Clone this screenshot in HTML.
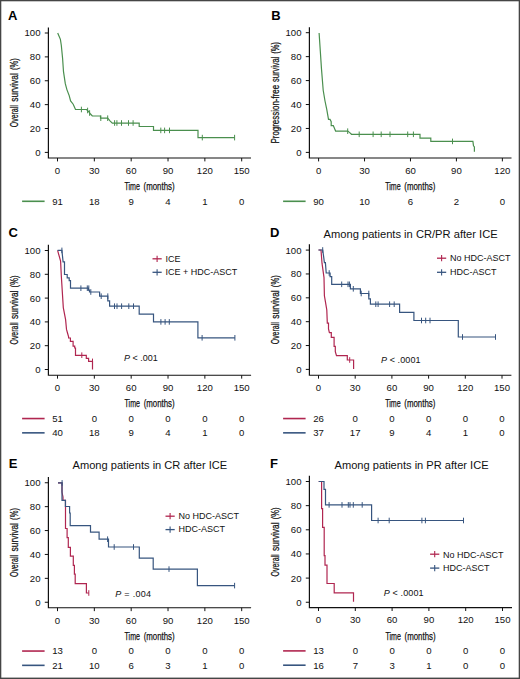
<!DOCTYPE html>
<html><head><meta charset="utf-8"><style>
html,body{margin:0;padding:0;background:#fff;}
body{width:520px;height:679px;overflow:hidden;}
svg{display:block;font-family:"Liberation Sans", sans-serif;}
.t{font-size:9px;fill:#111;}
.n{font-size:9.6px;fill:#111;}
.c{font-size:10.8px;fill:#111;stroke:#111;stroke-width:0.25px;}
</style></head><body>
<svg width="520" height="679" viewBox="0 0 520 679">
<rect x="0" y="0" width="520" height="679" fill="#fff"/>
<rect x="0" y="0" width="520" height="1.3" fill="#454545"/>
<rect x="0" y="0" width="1.3" height="679" fill="#454545"/>
<rect x="518.7" y="0" width="1.3" height="679" fill="#454545"/>
<rect x="0" y="677.6" width="520" height="1.4" fill="#454545"/>
<text x="8" y="19.7" font-size="13" font-weight="bold" fill="#000">A</text>
<path d="M48.4,27.5 V158 H251" fill="none" stroke="#111" stroke-width="1.2"/>
<line x1="44.8" y1="152.40" x2="48.4" y2="152.40" stroke="#111" stroke-width="1"/>
<text x="40.5" y="155.85" text-anchor="end" class="n">0</text>
<line x1="44.8" y1="128.52" x2="48.4" y2="128.52" stroke="#111" stroke-width="1"/>
<text x="40.5" y="131.97" text-anchor="end" class="n">20</text>
<line x1="44.8" y1="104.64" x2="48.4" y2="104.64" stroke="#111" stroke-width="1"/>
<text x="40.5" y="108.09" text-anchor="end" class="n">40</text>
<line x1="44.8" y1="80.76" x2="48.4" y2="80.76" stroke="#111" stroke-width="1"/>
<text x="40.5" y="84.21" text-anchor="end" class="n">60</text>
<line x1="44.8" y1="56.88" x2="48.4" y2="56.88" stroke="#111" stroke-width="1"/>
<text x="40.5" y="60.33" text-anchor="end" class="n">80</text>
<line x1="44.8" y1="33.00" x2="48.4" y2="33.00" stroke="#111" stroke-width="1"/>
<text x="40.5" y="36.45" text-anchor="end" class="n">100</text>
<line x1="57.50" y1="158" x2="57.50" y2="161.4" stroke="#111" stroke-width="1"/>
<text x="57.50" y="173.80" text-anchor="middle" class="n">0</text>
<line x1="94.34" y1="158" x2="94.34" y2="161.4" stroke="#111" stroke-width="1"/>
<text x="94.34" y="173.80" text-anchor="middle" class="n">30</text>
<line x1="131.18" y1="158" x2="131.18" y2="161.4" stroke="#111" stroke-width="1"/>
<text x="131.18" y="173.80" text-anchor="middle" class="n">60</text>
<line x1="168.02" y1="158" x2="168.02" y2="161.4" stroke="#111" stroke-width="1"/>
<text x="168.02" y="173.80" text-anchor="middle" class="n">90</text>
<line x1="204.86" y1="158" x2="204.86" y2="161.4" stroke="#111" stroke-width="1"/>
<text x="204.86" y="173.80" text-anchor="middle" class="n">120</text>
<line x1="241.70" y1="158" x2="241.70" y2="161.4" stroke="#111" stroke-width="1"/>
<text x="241.70" y="173.80" text-anchor="middle" class="n">150</text>
<text x="124.50" y="189.60" class="c" textLength="15.4" lengthAdjust="spacingAndGlyphs">Time</text>
<text x="143.60" y="189.60" class="c" textLength="31" lengthAdjust="spacingAndGlyphs">(months)</text>
<text transform="translate(17.60,127.20) rotate(-90)" x="0" y="0" class="c" textLength="22.0" lengthAdjust="spacingAndGlyphs">Overall</text>
<text transform="translate(17.60,101.70) rotate(-90)" x="0" y="0" class="c" textLength="28.5" lengthAdjust="spacingAndGlyphs">survival</text>
<text transform="translate(17.60,70.10) rotate(-90)" x="0" y="0" class="c" textLength="11.9" lengthAdjust="spacingAndGlyphs">(%)</text>
<line x1="22.099999999999998" y1="201.30" x2="44.6" y2="201.30" stroke="#4a8f4e" stroke-width="1.6"/>
<text x="57.50" y="204.60" text-anchor="middle" class="n">91</text>
<text x="94.34" y="204.60" text-anchor="middle" class="n">18</text>
<text x="131.18" y="204.60" text-anchor="middle" class="n">9</text>
<text x="168.02" y="204.60" text-anchor="middle" class="n">4</text>
<text x="204.86" y="204.60" text-anchor="middle" class="n">1</text>
<text x="241.70" y="204.60" text-anchor="middle" class="n">0</text>
<path d="M57.7,33 L60.4,39.3 L61.3,45.2 L62.6,58.5 L63.5,71.7 L65.3,83.7 L66.9,89.6 L69.2,95.6 L70.6,100.9 L73.2,104.2 L75.5,109.5 H86.5 L88.5,111.5 L90.5,114 L92.3,116 H100.5 V118.2 H107.7 L110,120.8 L112.3,123.1 H139.2 V126.5 H153.5 V130.4 H198 V137.6 H234.6" fill="none" stroke="#4a8f4e" stroke-width="1.2" stroke-linejoin="miter"/>
<line x1="81.4" y1="106.70" x2="81.4" y2="112.30" stroke="#4a8f4e" stroke-width="1"/>
<line x1="87.6" y1="107.70" x2="87.6" y2="113.30" stroke="#4a8f4e" stroke-width="1"/>
<line x1="89.6" y1="110.20" x2="89.6" y2="115.80" stroke="#4a8f4e" stroke-width="1"/>
<line x1="100.8" y1="115.40" x2="100.8" y2="121.00" stroke="#4a8f4e" stroke-width="1"/>
<line x1="107.7" y1="115.40" x2="107.7" y2="121.00" stroke="#4a8f4e" stroke-width="1"/>
<line x1="114.6" y1="120.20" x2="114.6" y2="125.80" stroke="#4a8f4e" stroke-width="1"/>
<line x1="116.9" y1="120.20" x2="116.9" y2="125.80" stroke="#4a8f4e" stroke-width="1"/>
<line x1="121.5" y1="120.20" x2="121.5" y2="125.80" stroke="#4a8f4e" stroke-width="1"/>
<line x1="128.5" y1="120.20" x2="128.5" y2="125.80" stroke="#4a8f4e" stroke-width="1"/>
<line x1="133.1" y1="120.20" x2="133.1" y2="125.80" stroke="#4a8f4e" stroke-width="1"/>
<line x1="160.8" y1="127.60" x2="160.8" y2="133.20" stroke="#4a8f4e" stroke-width="1"/>
<line x1="164.6" y1="127.60" x2="164.6" y2="133.20" stroke="#4a8f4e" stroke-width="1"/>
<line x1="169.5" y1="127.60" x2="169.5" y2="133.20" stroke="#4a8f4e" stroke-width="1"/>
<line x1="202.3" y1="134.80" x2="202.3" y2="140.40" stroke="#4a8f4e" stroke-width="1"/>
<line x1="234.6" y1="134.80" x2="234.6" y2="140.40" stroke="#4a8f4e" stroke-width="1"/>
<text x="271.2" y="19.7" font-size="13" font-weight="bold" fill="#000">B</text>
<path d="M309.4,27.3 V158 H511.5" fill="none" stroke="#111" stroke-width="1.2"/>
<line x1="305.79999999999995" y1="152.40" x2="309.4" y2="152.40" stroke="#111" stroke-width="1"/>
<text x="301.5" y="155.85" text-anchor="end" class="n">0</text>
<line x1="305.79999999999995" y1="128.46" x2="309.4" y2="128.46" stroke="#111" stroke-width="1"/>
<text x="301.5" y="131.91" text-anchor="end" class="n">20</text>
<line x1="305.79999999999995" y1="104.52" x2="309.4" y2="104.52" stroke="#111" stroke-width="1"/>
<text x="301.5" y="107.97" text-anchor="end" class="n">40</text>
<line x1="305.79999999999995" y1="80.58" x2="309.4" y2="80.58" stroke="#111" stroke-width="1"/>
<text x="301.5" y="84.03" text-anchor="end" class="n">60</text>
<line x1="305.79999999999995" y1="56.64" x2="309.4" y2="56.64" stroke="#111" stroke-width="1"/>
<text x="301.5" y="60.09" text-anchor="end" class="n">80</text>
<line x1="305.79999999999995" y1="32.70" x2="309.4" y2="32.70" stroke="#111" stroke-width="1"/>
<text x="301.5" y="36.15" text-anchor="end" class="n">100</text>
<line x1="318.60" y1="158" x2="318.60" y2="161.4" stroke="#111" stroke-width="1"/>
<text x="318.60" y="173.80" text-anchor="middle" class="n">0</text>
<line x1="364.54" y1="158" x2="364.54" y2="161.4" stroke="#111" stroke-width="1"/>
<text x="364.54" y="173.80" text-anchor="middle" class="n">30</text>
<line x1="410.48" y1="158" x2="410.48" y2="161.4" stroke="#111" stroke-width="1"/>
<text x="410.48" y="173.80" text-anchor="middle" class="n">60</text>
<line x1="456.42" y1="158" x2="456.42" y2="161.4" stroke="#111" stroke-width="1"/>
<text x="456.42" y="173.80" text-anchor="middle" class="n">90</text>
<line x1="502.36" y1="158" x2="502.36" y2="161.4" stroke="#111" stroke-width="1"/>
<text x="502.36" y="173.80" text-anchor="middle" class="n">120</text>
<text x="385.25" y="189.60" class="c" textLength="15.4" lengthAdjust="spacingAndGlyphs">Time</text>
<text x="404.35" y="189.60" class="c" textLength="31" lengthAdjust="spacingAndGlyphs">(months)</text>
<text transform="translate(278.60,143.55) rotate(-90)" x="0" y="0" class="c" textLength="58.7" lengthAdjust="spacingAndGlyphs">Progression-free</text>
<text transform="translate(278.60,82.05) rotate(-90)" x="0" y="0" class="c" textLength="25.5" lengthAdjust="spacingAndGlyphs">survival</text>
<text transform="translate(278.60,53.65) rotate(-90)" x="0" y="0" class="c" textLength="11.7" lengthAdjust="spacingAndGlyphs">(%)</text>
<line x1="283.09999999999997" y1="201.30" x2="305.59999999999997" y2="201.30" stroke="#4a8f4e" stroke-width="1.6"/>
<text x="318.60" y="204.60" text-anchor="middle" class="n">90</text>
<text x="364.54" y="204.60" text-anchor="middle" class="n">10</text>
<text x="410.48" y="204.60" text-anchor="middle" class="n">6</text>
<text x="456.42" y="204.60" text-anchor="middle" class="n">2</text>
<text x="502.36" y="204.60" text-anchor="middle" class="n">0</text>
<path d="M319.1,33 L320.3,51 L321.5,69.1 L323.2,90.3 L325,101 L326.8,109.7 L328.5,119.4 H330 L331.2,121.7 V125.6 H333.3 L335.6,131.1 H347.8 L349.7,132.6 L351.5,134.3 H420 V138.1 H430.8 V141.4 H472.9 L473.5,145.8 L474.4,146.9 V151.8" fill="none" stroke="#4a8f4e" stroke-width="1.2" stroke-linejoin="miter"/>
<line x1="347.7" y1="128.40" x2="347.7" y2="134.00" stroke="#4a8f4e" stroke-width="1"/>
<line x1="359.2" y1="131.50" x2="359.2" y2="137.10" stroke="#4a8f4e" stroke-width="1"/>
<line x1="373.1" y1="131.50" x2="373.1" y2="137.10" stroke="#4a8f4e" stroke-width="1"/>
<line x1="381.2" y1="131.50" x2="381.2" y2="137.10" stroke="#4a8f4e" stroke-width="1"/>
<line x1="390" y1="131.50" x2="390" y2="137.10" stroke="#4a8f4e" stroke-width="1"/>
<line x1="407.7" y1="131.50" x2="407.7" y2="137.10" stroke="#4a8f4e" stroke-width="1"/>
<line x1="413.4" y1="131.50" x2="413.4" y2="137.10" stroke="#4a8f4e" stroke-width="1"/>
<line x1="452.5" y1="138.60" x2="452.5" y2="144.20" stroke="#4a8f4e" stroke-width="1"/>
<text x="8.4" y="236.6" font-size="13" font-weight="bold" fill="#000">C</text>
<path d="M48.4,244.75 V375.25 H251.1" fill="none" stroke="#111" stroke-width="1.2"/>
<line x1="44.8" y1="369.50" x2="48.4" y2="369.50" stroke="#111" stroke-width="1"/>
<text x="40.5" y="372.95" text-anchor="end" class="n">0</text>
<line x1="44.8" y1="345.70" x2="48.4" y2="345.70" stroke="#111" stroke-width="1"/>
<text x="40.5" y="349.15" text-anchor="end" class="n">20</text>
<line x1="44.8" y1="321.90" x2="48.4" y2="321.90" stroke="#111" stroke-width="1"/>
<text x="40.5" y="325.35" text-anchor="end" class="n">40</text>
<line x1="44.8" y1="298.10" x2="48.4" y2="298.10" stroke="#111" stroke-width="1"/>
<text x="40.5" y="301.55" text-anchor="end" class="n">60</text>
<line x1="44.8" y1="274.30" x2="48.4" y2="274.30" stroke="#111" stroke-width="1"/>
<text x="40.5" y="277.75" text-anchor="end" class="n">80</text>
<line x1="44.8" y1="250.50" x2="48.4" y2="250.50" stroke="#111" stroke-width="1"/>
<text x="40.5" y="253.95" text-anchor="end" class="n">100</text>
<line x1="57.50" y1="375.25" x2="57.50" y2="378.65" stroke="#111" stroke-width="1"/>
<text x="57.50" y="391.05" text-anchor="middle" class="n">0</text>
<line x1="94.34" y1="375.25" x2="94.34" y2="378.65" stroke="#111" stroke-width="1"/>
<text x="94.34" y="391.05" text-anchor="middle" class="n">30</text>
<line x1="131.18" y1="375.25" x2="131.18" y2="378.65" stroke="#111" stroke-width="1"/>
<text x="131.18" y="391.05" text-anchor="middle" class="n">60</text>
<line x1="168.02" y1="375.25" x2="168.02" y2="378.65" stroke="#111" stroke-width="1"/>
<text x="168.02" y="391.05" text-anchor="middle" class="n">90</text>
<line x1="204.86" y1="375.25" x2="204.86" y2="378.65" stroke="#111" stroke-width="1"/>
<text x="204.86" y="391.05" text-anchor="middle" class="n">120</text>
<line x1="241.70" y1="375.25" x2="241.70" y2="378.65" stroke="#111" stroke-width="1"/>
<text x="241.70" y="391.05" text-anchor="middle" class="n">150</text>
<text x="124.55" y="406.85" class="c" textLength="15.4" lengthAdjust="spacingAndGlyphs">Time</text>
<text x="143.65" y="406.85" class="c" textLength="31" lengthAdjust="spacingAndGlyphs">(months)</text>
<text transform="translate(17.60,344.50) rotate(-90)" x="0" y="0" class="c" textLength="22.0" lengthAdjust="spacingAndGlyphs">Overall</text>
<text transform="translate(17.60,319.00) rotate(-90)" x="0" y="0" class="c" textLength="28.5" lengthAdjust="spacingAndGlyphs">survival</text>
<text transform="translate(17.60,287.40) rotate(-90)" x="0" y="0" class="c" textLength="11.9" lengthAdjust="spacingAndGlyphs">(%)</text>
<line x1="22.099999999999998" y1="418.55" x2="44.6" y2="418.55" stroke="#b02650" stroke-width="1.6"/>
<text x="57.50" y="421.85" text-anchor="middle" class="n">51</text>
<text x="94.34" y="421.85" text-anchor="middle" class="n">0</text>
<text x="131.18" y="421.85" text-anchor="middle" class="n">0</text>
<text x="168.02" y="421.85" text-anchor="middle" class="n">0</text>
<text x="204.86" y="421.85" text-anchor="middle" class="n">0</text>
<text x="241.70" y="421.85" text-anchor="middle" class="n">0</text>
<line x1="22.099999999999998" y1="432.85" x2="44.6" y2="432.85" stroke="#37557f" stroke-width="1.6"/>
<text x="57.50" y="436.15" text-anchor="middle" class="n">40</text>
<text x="94.34" y="436.15" text-anchor="middle" class="n">18</text>
<text x="131.18" y="436.15" text-anchor="middle" class="n">9</text>
<text x="168.02" y="436.15" text-anchor="middle" class="n">4</text>
<text x="204.86" y="436.15" text-anchor="middle" class="n">1</text>
<text x="241.70" y="436.15" text-anchor="middle" class="n">0</text>
<path d="M57.6,250.4 L60.6,261.2 L61.3,275.8 L63.3,307.6 L65.6,319.6 L66.5,329.4 L67.5,333 L68.6,336.9 V338 H70.4 V341.4 H73.1 V346.1 H74.7 V348 H75.5 V355.3 H86.3 V358.4 H88.6 V361.4 H92.5 V369.6" fill="none" stroke="#b02650" stroke-width="1.2" stroke-linejoin="miter"/>
<line x1="81.8" y1="352.40" x2="81.8" y2="358.00" stroke="#b02650" stroke-width="1"/>
<line x1="92.5" y1="358.60" x2="92.5" y2="364.20" stroke="#b02650" stroke-width="1"/>
<path d="M57.6,250.4 H61.9 L63.1,261.9 H64.5 V274.5 H67.2 V277.8 H69.2 V280.6 H70.5 V288.2 H88.4 V290 H89.5 V292 H99.6 V296.2 H107.8 V300.8 H109.6 V306.2 H139.2 V314.1 H153.5 V321.9 H197.9 V337.8 H234.9" fill="none" stroke="#37557f" stroke-width="1.2" stroke-linejoin="miter"/>
<line x1="61.9" y1="247.60" x2="61.9" y2="253.20" stroke="#37557f" stroke-width="1"/>
<line x1="80.9" y1="285.40" x2="80.9" y2="291.00" stroke="#37557f" stroke-width="1"/>
<line x1="87.3" y1="285.40" x2="87.3" y2="291.00" stroke="#37557f" stroke-width="1"/>
<line x1="88.8" y1="285.40" x2="88.8" y2="291.00" stroke="#37557f" stroke-width="1"/>
<line x1="90.8" y1="289.20" x2="90.8" y2="294.80" stroke="#37557f" stroke-width="1"/>
<line x1="101.2" y1="293.40" x2="101.2" y2="299.00" stroke="#37557f" stroke-width="1"/>
<line x1="107.8" y1="293.40" x2="107.8" y2="299.00" stroke="#37557f" stroke-width="1"/>
<line x1="114.5" y1="303.40" x2="114.5" y2="309.00" stroke="#37557f" stroke-width="1"/>
<line x1="117" y1="303.40" x2="117" y2="309.00" stroke="#37557f" stroke-width="1"/>
<line x1="121.6" y1="303.40" x2="121.6" y2="309.00" stroke="#37557f" stroke-width="1"/>
<line x1="128.8" y1="303.40" x2="128.8" y2="309.00" stroke="#37557f" stroke-width="1"/>
<line x1="133.5" y1="303.40" x2="133.5" y2="309.00" stroke="#37557f" stroke-width="1"/>
<line x1="160.9" y1="319.10" x2="160.9" y2="324.70" stroke="#37557f" stroke-width="1"/>
<line x1="165.1" y1="319.10" x2="165.1" y2="324.70" stroke="#37557f" stroke-width="1"/>
<line x1="169.3" y1="319.10" x2="169.3" y2="324.70" stroke="#37557f" stroke-width="1"/>
<line x1="202.1" y1="335.00" x2="202.1" y2="340.60" stroke="#37557f" stroke-width="1"/>
<line x1="234.9" y1="335.00" x2="234.9" y2="340.60" stroke="#37557f" stroke-width="1"/>
<line x1="152.50" y1="258.8" x2="161.70" y2="258.8" stroke="#b02650" stroke-width="1.3"/>
<line x1="157.1" y1="255.70" x2="157.1" y2="261.90" stroke="#b02650" stroke-width="1.1"/>
<text x="165.5" y="261.7" class="t">ICE</text>
<line x1="152.50" y1="272.3" x2="161.70" y2="272.3" stroke="#37557f" stroke-width="1.3"/>
<line x1="157.1" y1="269.20" x2="157.1" y2="275.40" stroke="#37557f" stroke-width="1.1"/>
<text x="165.5" y="274.8" class="t">ICE + HDC-ASCT</text>
<text x="124.1" y="361.2" class="t" textLength="33.6" lengthAdjust="spacing"><tspan font-style="italic">P</tspan> &lt; .001</text>
<text x="270" y="236.7" font-size="13" font-weight="bold" fill="#000">D</text>
<path d="M309.4,244.25 V375.25 H511.4" fill="none" stroke="#111" stroke-width="1.2"/>
<line x1="305.79999999999995" y1="369.40" x2="309.4" y2="369.40" stroke="#111" stroke-width="1"/>
<text x="301.5" y="372.85" text-anchor="end" class="n">0</text>
<line x1="305.79999999999995" y1="345.54" x2="309.4" y2="345.54" stroke="#111" stroke-width="1"/>
<text x="301.5" y="348.99" text-anchor="end" class="n">20</text>
<line x1="305.79999999999995" y1="321.68" x2="309.4" y2="321.68" stroke="#111" stroke-width="1"/>
<text x="301.5" y="325.13" text-anchor="end" class="n">40</text>
<line x1="305.79999999999995" y1="297.82" x2="309.4" y2="297.82" stroke="#111" stroke-width="1"/>
<text x="301.5" y="301.27" text-anchor="end" class="n">60</text>
<line x1="305.79999999999995" y1="273.96" x2="309.4" y2="273.96" stroke="#111" stroke-width="1"/>
<text x="301.5" y="277.41" text-anchor="end" class="n">80</text>
<line x1="305.79999999999995" y1="250.10" x2="309.4" y2="250.10" stroke="#111" stroke-width="1"/>
<text x="301.5" y="253.55" text-anchor="end" class="n">100</text>
<line x1="318.50" y1="375.25" x2="318.50" y2="378.65" stroke="#111" stroke-width="1"/>
<text x="318.50" y="391.05" text-anchor="middle" class="n">0</text>
<line x1="355.20" y1="375.25" x2="355.20" y2="378.65" stroke="#111" stroke-width="1"/>
<text x="355.20" y="391.05" text-anchor="middle" class="n">30</text>
<line x1="391.90" y1="375.25" x2="391.90" y2="378.65" stroke="#111" stroke-width="1"/>
<text x="391.90" y="391.05" text-anchor="middle" class="n">60</text>
<line x1="428.60" y1="375.25" x2="428.60" y2="378.65" stroke="#111" stroke-width="1"/>
<text x="428.60" y="391.05" text-anchor="middle" class="n">90</text>
<line x1="465.30" y1="375.25" x2="465.30" y2="378.65" stroke="#111" stroke-width="1"/>
<text x="465.30" y="391.05" text-anchor="middle" class="n">120</text>
<line x1="502.00" y1="375.25" x2="502.00" y2="378.65" stroke="#111" stroke-width="1"/>
<text x="502.00" y="391.05" text-anchor="middle" class="n">150</text>
<text x="385.20" y="406.85" class="c" textLength="15.4" lengthAdjust="spacingAndGlyphs">Time</text>
<text x="404.30" y="406.85" class="c" textLength="31" lengthAdjust="spacingAndGlyphs">(months)</text>
<text transform="translate(278.60,344.25) rotate(-90)" x="0" y="0" class="c" textLength="22.0" lengthAdjust="spacingAndGlyphs">Overall</text>
<text transform="translate(278.60,318.75) rotate(-90)" x="0" y="0" class="c" textLength="28.5" lengthAdjust="spacingAndGlyphs">survival</text>
<text transform="translate(278.60,287.15) rotate(-90)" x="0" y="0" class="c" textLength="11.9" lengthAdjust="spacingAndGlyphs">(%)</text>
<line x1="283.09999999999997" y1="418.55" x2="305.59999999999997" y2="418.55" stroke="#b02650" stroke-width="1.6"/>
<text x="318.50" y="421.85" text-anchor="middle" class="n">26</text>
<text x="355.20" y="421.85" text-anchor="middle" class="n">0</text>
<text x="391.90" y="421.85" text-anchor="middle" class="n">0</text>
<text x="428.60" y="421.85" text-anchor="middle" class="n">0</text>
<text x="465.30" y="421.85" text-anchor="middle" class="n">0</text>
<text x="502.00" y="421.85" text-anchor="middle" class="n">0</text>
<line x1="283.09999999999997" y1="432.85" x2="305.59999999999997" y2="432.85" stroke="#37557f" stroke-width="1.6"/>
<text x="318.50" y="436.15" text-anchor="middle" class="n">37</text>
<text x="355.20" y="436.15" text-anchor="middle" class="n">17</text>
<text x="391.90" y="436.15" text-anchor="middle" class="n">9</text>
<text x="428.60" y="436.15" text-anchor="middle" class="n">4</text>
<text x="465.30" y="436.15" text-anchor="middle" class="n">1</text>
<text x="502.00" y="436.15" text-anchor="middle" class="n">0</text>
<path d="M318.5,250 H321 L322,263.2 L324,277.6 L324.4,295.8 L325.4,301.6 L326.8,310 L327.3,323.1 H328.5 V329 L329.4,332.7 H331.3 V337.3 H334.1 V346.3 H335.3 V351.6 L336.5,355.6 H347.3 V360 H353.6 V369.1" fill="none" stroke="#b02650" stroke-width="1.2" stroke-linejoin="miter"/>
<line x1="349.7" y1="357.20" x2="349.7" y2="362.80" stroke="#b02650" stroke-width="1"/>
<path d="M318.5,250 H322.7 L323.6,256.4 L324.4,262.7 H325.4 L326.2,273 H330.1 V276.6 H331.7 V284.3 H350.4 V288.8 H360.4 V293.5 H368.8 V298.8 H370.4 V304.2 H399.6 V312.3 H413.9 V320.5 H458.3 V337 H495.5" fill="none" stroke="#37557f" stroke-width="1.2" stroke-linejoin="miter"/>
<line x1="322.7" y1="247.20" x2="322.7" y2="252.80" stroke="#37557f" stroke-width="1"/>
<line x1="329.2" y1="270.20" x2="329.2" y2="275.80" stroke="#37557f" stroke-width="1"/>
<line x1="341.7" y1="281.50" x2="341.7" y2="287.10" stroke="#37557f" stroke-width="1"/>
<line x1="348" y1="281.50" x2="348" y2="287.10" stroke="#37557f" stroke-width="1"/>
<line x1="349.4" y1="281.50" x2="349.4" y2="287.10" stroke="#37557f" stroke-width="1"/>
<line x1="353.3" y1="286.00" x2="353.3" y2="291.60" stroke="#37557f" stroke-width="1"/>
<line x1="361.2" y1="290.70" x2="361.2" y2="296.30" stroke="#37557f" stroke-width="1"/>
<line x1="368.8" y1="290.70" x2="368.8" y2="296.30" stroke="#37557f" stroke-width="1"/>
<line x1="375.8" y1="301.40" x2="375.8" y2="307.00" stroke="#37557f" stroke-width="1"/>
<line x1="378.1" y1="301.40" x2="378.1" y2="307.00" stroke="#37557f" stroke-width="1"/>
<line x1="389.6" y1="301.40" x2="389.6" y2="307.00" stroke="#37557f" stroke-width="1"/>
<line x1="394.2" y1="301.40" x2="394.2" y2="307.00" stroke="#37557f" stroke-width="1"/>
<line x1="421.5" y1="317.70" x2="421.5" y2="323.30" stroke="#37557f" stroke-width="1"/>
<line x1="425.7" y1="317.70" x2="425.7" y2="323.30" stroke="#37557f" stroke-width="1"/>
<line x1="430" y1="317.70" x2="430" y2="323.30" stroke="#37557f" stroke-width="1"/>
<line x1="462.5" y1="334.20" x2="462.5" y2="339.80" stroke="#37557f" stroke-width="1"/>
<line x1="495.5" y1="334.20" x2="495.5" y2="339.80" stroke="#37557f" stroke-width="1"/>
<line x1="437.00" y1="258.2" x2="446.20" y2="258.2" stroke="#b02650" stroke-width="1.3"/>
<line x1="441.6" y1="255.10" x2="441.6" y2="261.30" stroke="#b02650" stroke-width="1.1"/>
<text x="450.1" y="261.3" class="t">No HDC-ASCT</text>
<line x1="437.00" y1="272.3" x2="446.20" y2="272.3" stroke="#37557f" stroke-width="1.3"/>
<line x1="441.6" y1="269.20" x2="441.6" y2="275.40" stroke="#37557f" stroke-width="1.1"/>
<text x="450.1" y="275.1" class="t">HDC-ASCT</text>
<text x="381" y="362.5" class="t" textLength="39.5" lengthAdjust="spacing"><tspan font-style="italic">P</tspan> &lt; .0001</text>
<text x="323.5" y="237.8" font-size="11" fill="#111" textLength="174.2" lengthAdjust="spacingAndGlyphs">Among patients in CR/PR after ICE</text>
<text x="8.8" y="468.4" font-size="13" font-weight="bold" fill="#000">E</text>
<path d="M48.4,477 V607.75 H251.1" fill="none" stroke="#111" stroke-width="1.2"/>
<line x1="44.8" y1="602.25" x2="48.4" y2="602.25" stroke="#111" stroke-width="1"/>
<text x="40.5" y="605.70" text-anchor="end" class="n">0</text>
<line x1="44.8" y1="578.35" x2="48.4" y2="578.35" stroke="#111" stroke-width="1"/>
<text x="40.5" y="581.80" text-anchor="end" class="n">20</text>
<line x1="44.8" y1="554.45" x2="48.4" y2="554.45" stroke="#111" stroke-width="1"/>
<text x="40.5" y="557.90" text-anchor="end" class="n">40</text>
<line x1="44.8" y1="530.55" x2="48.4" y2="530.55" stroke="#111" stroke-width="1"/>
<text x="40.5" y="534.00" text-anchor="end" class="n">60</text>
<line x1="44.8" y1="506.65" x2="48.4" y2="506.65" stroke="#111" stroke-width="1"/>
<text x="40.5" y="510.10" text-anchor="end" class="n">80</text>
<line x1="44.8" y1="482.75" x2="48.4" y2="482.75" stroke="#111" stroke-width="1"/>
<text x="40.5" y="486.20" text-anchor="end" class="n">100</text>
<line x1="57.50" y1="607.75" x2="57.50" y2="611.15" stroke="#111" stroke-width="1"/>
<text x="57.50" y="623.55" text-anchor="middle" class="n">0</text>
<line x1="94.34" y1="607.75" x2="94.34" y2="611.15" stroke="#111" stroke-width="1"/>
<text x="94.34" y="623.55" text-anchor="middle" class="n">30</text>
<line x1="131.18" y1="607.75" x2="131.18" y2="611.15" stroke="#111" stroke-width="1"/>
<text x="131.18" y="623.55" text-anchor="middle" class="n">60</text>
<line x1="168.02" y1="607.75" x2="168.02" y2="611.15" stroke="#111" stroke-width="1"/>
<text x="168.02" y="623.55" text-anchor="middle" class="n">90</text>
<line x1="204.86" y1="607.75" x2="204.86" y2="611.15" stroke="#111" stroke-width="1"/>
<text x="204.86" y="623.55" text-anchor="middle" class="n">120</text>
<line x1="241.70" y1="607.75" x2="241.70" y2="611.15" stroke="#111" stroke-width="1"/>
<text x="241.70" y="623.55" text-anchor="middle" class="n">150</text>
<text x="124.55" y="639.85" class="c" textLength="15.4" lengthAdjust="spacingAndGlyphs">Time</text>
<text x="143.65" y="639.85" class="c" textLength="31" lengthAdjust="spacingAndGlyphs">(months)</text>
<text transform="translate(17.60,577.00) rotate(-90)" x="0" y="0" class="c" textLength="22.0" lengthAdjust="spacingAndGlyphs">Overall</text>
<text transform="translate(17.60,551.50) rotate(-90)" x="0" y="0" class="c" textLength="28.5" lengthAdjust="spacingAndGlyphs">survival</text>
<text transform="translate(17.60,519.90) rotate(-90)" x="0" y="0" class="c" textLength="11.9" lengthAdjust="spacingAndGlyphs">(%)</text>
<line x1="22.099999999999998" y1="651.05" x2="44.6" y2="651.05" stroke="#b02650" stroke-width="1.6"/>
<text x="57.50" y="654.35" text-anchor="middle" class="n">13</text>
<text x="94.34" y="654.35" text-anchor="middle" class="n">0</text>
<text x="131.18" y="654.35" text-anchor="middle" class="n">0</text>
<text x="168.02" y="654.35" text-anchor="middle" class="n">0</text>
<text x="204.86" y="654.35" text-anchor="middle" class="n">0</text>
<text x="241.70" y="654.35" text-anchor="middle" class="n">0</text>
<line x1="22.099999999999998" y1="665.35" x2="44.6" y2="665.35" stroke="#37557f" stroke-width="1.6"/>
<text x="57.50" y="668.65" text-anchor="middle" class="n">21</text>
<text x="94.34" y="668.65" text-anchor="middle" class="n">10</text>
<text x="131.18" y="668.65" text-anchor="middle" class="n">6</text>
<text x="168.02" y="668.65" text-anchor="middle" class="n">3</text>
<text x="204.86" y="668.65" text-anchor="middle" class="n">1</text>
<text x="241.70" y="668.65" text-anchor="middle" class="n">0</text>
<path d="M58,482.9 H62 V492 L63,497 V500.4 H65.5 V528.5 H67.1 V537.6 H68.3 V547.3 H70.4 V556.2 H73.3 V565.4 H74.4 V574.2 H75.2 V583.6 H86.4 V593 H88.8" fill="none" stroke="#b02650" stroke-width="1.2" stroke-linejoin="miter"/>
<line x1="88.8" y1="590.20" x2="88.8" y2="595.80" stroke="#b02650" stroke-width="1"/>
<path d="M58,482.9 H62 V500.4 H65.4 V506.5 H69.6 V513 H70.2 V525.7 H90.5 V532.1 H99.1 V539.2 H108.5 V547 H139.3 V558.1 H153.2 V569.1 H197.4 V585.6 H234.6" fill="none" stroke="#37557f" stroke-width="1.2" stroke-linejoin="miter"/>
<line x1="62.1" y1="480.10" x2="62.1" y2="485.70" stroke="#37557f" stroke-width="1"/>
<line x1="107.6" y1="536.40" x2="107.6" y2="542.00" stroke="#37557f" stroke-width="1"/>
<line x1="114.2" y1="544.20" x2="114.2" y2="549.80" stroke="#37557f" stroke-width="1"/>
<line x1="133.5" y1="544.20" x2="133.5" y2="549.80" stroke="#37557f" stroke-width="1"/>
<line x1="169" y1="566.30" x2="169" y2="571.90" stroke="#37557f" stroke-width="1"/>
<line x1="234.6" y1="582.80" x2="234.6" y2="588.40" stroke="#37557f" stroke-width="1"/>
<line x1="165.50" y1="516.2" x2="174.70" y2="516.2" stroke="#b02650" stroke-width="1.3"/>
<line x1="170.1" y1="513.10" x2="170.1" y2="519.30" stroke="#b02650" stroke-width="1.1"/>
<text x="178.5" y="519.4" class="t">No HDC-ASCT</text>
<line x1="165.50" y1="529.6" x2="174.70" y2="529.6" stroke="#37557f" stroke-width="1.3"/>
<line x1="170.1" y1="526.50" x2="170.1" y2="532.70" stroke="#37557f" stroke-width="1.1"/>
<text x="178.5" y="532.4" class="t">HDC-ASCT</text>
<text x="115.2" y="597.1" class="t" textLength="35.9" lengthAdjust="spacing"><tspan font-style="italic">P</tspan> = .004</text>
<text x="72.5" y="469.1" font-size="11" fill="#111" textLength="154.7" lengthAdjust="spacingAndGlyphs">Among patients in CR after ICE</text>
<text x="270" y="468.3" font-size="13" font-weight="bold" fill="#000">F</text>
<path d="M309.4,475.75 V607.6 H512" fill="none" stroke="#111" stroke-width="1.2"/>
<line x1="305.79999999999995" y1="602.25" x2="309.4" y2="602.25" stroke="#111" stroke-width="1"/>
<text x="301.5" y="605.70" text-anchor="end" class="n">0</text>
<line x1="305.79999999999995" y1="578.10" x2="309.4" y2="578.10" stroke="#111" stroke-width="1"/>
<text x="301.5" y="581.55" text-anchor="end" class="n">20</text>
<line x1="305.79999999999995" y1="553.95" x2="309.4" y2="553.95" stroke="#111" stroke-width="1"/>
<text x="301.5" y="557.40" text-anchor="end" class="n">40</text>
<line x1="305.79999999999995" y1="529.80" x2="309.4" y2="529.80" stroke="#111" stroke-width="1"/>
<text x="301.5" y="533.25" text-anchor="end" class="n">60</text>
<line x1="305.79999999999995" y1="505.65" x2="309.4" y2="505.65" stroke="#111" stroke-width="1"/>
<text x="301.5" y="509.10" text-anchor="end" class="n">80</text>
<line x1="305.79999999999995" y1="481.50" x2="309.4" y2="481.50" stroke="#111" stroke-width="1"/>
<text x="301.5" y="484.95" text-anchor="end" class="n">100</text>
<line x1="318.50" y1="607.6" x2="318.50" y2="611.0" stroke="#111" stroke-width="1"/>
<text x="318.50" y="623.40" text-anchor="middle" class="n">0</text>
<line x1="355.30" y1="607.6" x2="355.30" y2="611.0" stroke="#111" stroke-width="1"/>
<text x="355.30" y="623.40" text-anchor="middle" class="n">30</text>
<line x1="392.10" y1="607.6" x2="392.10" y2="611.0" stroke="#111" stroke-width="1"/>
<text x="392.10" y="623.40" text-anchor="middle" class="n">60</text>
<line x1="428.90" y1="607.6" x2="428.90" y2="611.0" stroke="#111" stroke-width="1"/>
<text x="428.90" y="623.40" text-anchor="middle" class="n">90</text>
<line x1="465.70" y1="607.6" x2="465.70" y2="611.0" stroke="#111" stroke-width="1"/>
<text x="465.70" y="623.40" text-anchor="middle" class="n">120</text>
<line x1="502.50" y1="607.6" x2="502.50" y2="611.0" stroke="#111" stroke-width="1"/>
<text x="502.50" y="623.40" text-anchor="middle" class="n">150</text>
<text x="385.50" y="639.70" class="c" textLength="15.4" lengthAdjust="spacingAndGlyphs">Time</text>
<text x="404.60" y="639.70" class="c" textLength="31" lengthAdjust="spacingAndGlyphs">(months)</text>
<text transform="translate(278.60,576.38) rotate(-90)" x="0" y="0" class="c" textLength="22.0" lengthAdjust="spacingAndGlyphs">Overall</text>
<text transform="translate(278.60,550.88) rotate(-90)" x="0" y="0" class="c" textLength="28.5" lengthAdjust="spacingAndGlyphs">survival</text>
<text transform="translate(278.60,519.27) rotate(-90)" x="0" y="0" class="c" textLength="11.9" lengthAdjust="spacingAndGlyphs">(%)</text>
<line x1="283.09999999999997" y1="650.90" x2="305.59999999999997" y2="650.90" stroke="#b02650" stroke-width="1.6"/>
<text x="318.50" y="654.20" text-anchor="middle" class="n">13</text>
<text x="355.30" y="654.20" text-anchor="middle" class="n">0</text>
<text x="392.10" y="654.20" text-anchor="middle" class="n">0</text>
<text x="428.90" y="654.20" text-anchor="middle" class="n">0</text>
<text x="465.70" y="654.20" text-anchor="middle" class="n">0</text>
<text x="502.50" y="654.20" text-anchor="middle" class="n">0</text>
<line x1="283.09999999999997" y1="665.20" x2="305.59999999999997" y2="665.20" stroke="#37557f" stroke-width="1.6"/>
<text x="318.50" y="668.50" text-anchor="middle" class="n">16</text>
<text x="355.30" y="668.50" text-anchor="middle" class="n">7</text>
<text x="392.10" y="668.50" text-anchor="middle" class="n">3</text>
<text x="428.90" y="668.50" text-anchor="middle" class="n">1</text>
<text x="465.70" y="668.50" text-anchor="middle" class="n">0</text>
<text x="502.50" y="668.50" text-anchor="middle" class="n">0</text>
<path d="M318.7,481.5 H321.6 V508.7 H322.6 V527.4 H324.2 V555.6 H325 V565.1 H327 V583.5 H334.2 V592.9 H353.5 V601.7" fill="none" stroke="#b02650" stroke-width="1.2" stroke-linejoin="miter"/>
<path d="M318.7,481.5 H324 V489.4 H325.5 V504.9 H371.6 V520.5 H463.5" fill="none" stroke="#37557f" stroke-width="1.2" stroke-linejoin="miter"/>
<line x1="329.1" y1="502.10" x2="329.1" y2="507.70" stroke="#37557f" stroke-width="1"/>
<line x1="342" y1="502.10" x2="342" y2="507.70" stroke="#37557f" stroke-width="1"/>
<line x1="348.3" y1="502.10" x2="348.3" y2="507.70" stroke="#37557f" stroke-width="1"/>
<line x1="350" y1="502.10" x2="350" y2="507.70" stroke="#37557f" stroke-width="1"/>
<line x1="353.3" y1="502.10" x2="353.3" y2="507.70" stroke="#37557f" stroke-width="1"/>
<line x1="362.2" y1="502.10" x2="362.2" y2="507.70" stroke="#37557f" stroke-width="1"/>
<line x1="378.1" y1="517.70" x2="378.1" y2="523.30" stroke="#37557f" stroke-width="1"/>
<line x1="389.2" y1="517.70" x2="389.2" y2="523.30" stroke="#37557f" stroke-width="1"/>
<line x1="421.9" y1="517.70" x2="421.9" y2="523.30" stroke="#37557f" stroke-width="1"/>
<line x1="425.4" y1="517.70" x2="425.4" y2="523.30" stroke="#37557f" stroke-width="1"/>
<line x1="463.5" y1="517.70" x2="463.5" y2="523.30" stroke="#37557f" stroke-width="1"/>
<line x1="430.10" y1="554.2" x2="439.30" y2="554.2" stroke="#b02650" stroke-width="1.3"/>
<line x1="434.7" y1="551.10" x2="434.7" y2="557.30" stroke="#b02650" stroke-width="1.1"/>
<text x="442.9" y="557.5" class="t">No HDC-ASCT</text>
<line x1="430.10" y1="568.1" x2="439.30" y2="568.1" stroke="#37557f" stroke-width="1.3"/>
<line x1="434.7" y1="565.00" x2="434.7" y2="571.20" stroke="#37557f" stroke-width="1.1"/>
<text x="442.9" y="571" class="t">HDC-ASCT</text>
<text x="383.8" y="596.4" class="t" textLength="39.8" lengthAdjust="spacing"><tspan font-style="italic">P</tspan> &lt; .0001</text>
<text x="334.5" y="469.1" font-size="11" fill="#111" textLength="154.1" lengthAdjust="spacingAndGlyphs">Among patients in PR after ICE</text>
</svg>
</body></html>
